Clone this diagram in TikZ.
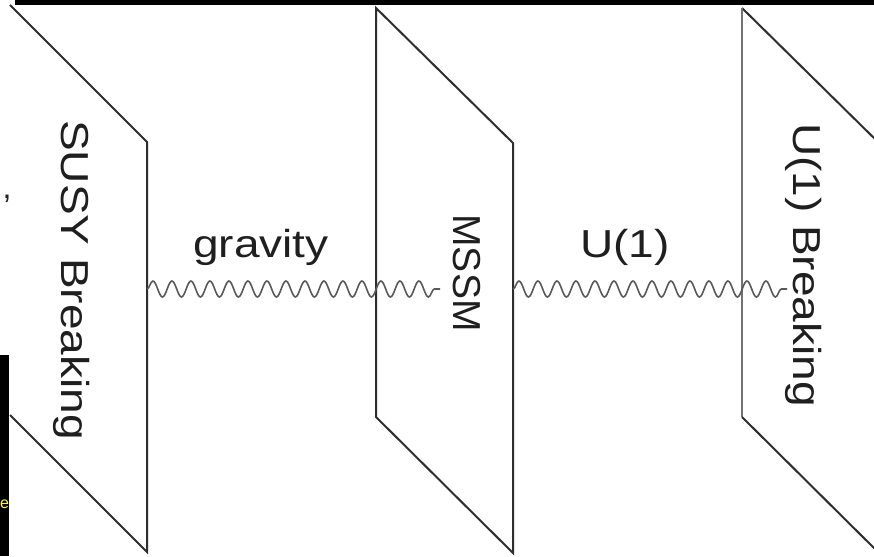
\documentclass[tikz,border=0pt]{standalone}
\usepackage{fontspec}
\setmainfont{Liberation Sans}
\usetikzlibrary{decorations.pathmorphing}

\newcommand{\widen}[1]{\scalebox{1.18}[1]{#1}}

\tikzset{
	plane/.style={draw=black!82, line width=2pt, line join=miter},
	photon/.style={draw=black!65, line width=1.6pt, decorate,
		decoration={snake, segment length=19pt, amplitude=8pt}},
	brane/.style={font=\fontsize{39}{46}\selectfont, text=black!88, rotate=-90, anchor=mid, inner sep=0pt},
	force/.style={font=\fontsize{39}{46}\selectfont, text=black!88, anchor=base, inner sep=0pt},
}

\begin{document}
\begin{tikzpicture}[x=1pt,y=-1pt]
		\useasboundingbox (0,0) rectangle (874,556);
		\clip (0,0) rectangle (874,556);
		\fill[white] (0,0) rectangle (874,556);

		% bits of the page around the figure
		\fill[black] (15,0) rectangle (874,5);
		\fill[black] (0,355) rectangle (9,556);
		\node[force, font=\fontsize{32}{38}\selectfont] (comma) at (7,198) {,};
		\node[force, font=\fontsize{16}{19}\selectfont, text=yellow!80!white] (frag) at (4.5,508) {e};

		% the three planes
		\draw[plane] (10,5) -- (147,142) -- (147,552) -- (10,415);
		\draw[plane] (513,143) -- (376,8) -- (376,417) -- (513,553) -- cycle;
		\draw[plane] (879,143) -- (742,8);
		\draw[plane, draw=black!55] (742,8) -- (742,417);
		\draw[plane] (742,417) -- (879,553);

		\node[brane] (susy) at (64,280) {\widen{SUSY Breaking}};
		\node[brane] (mssm) at (456,273) {MSSM};
		\node[brane] (ubreak) at (796,265) {\widen{U(1) Breaking}};

		\node[force] (grav) at (261,257) {\widen{gravity}};
		\node[force] (uone) at (625,257) {\widen{U(1)}};

		% messengers
		\coordinate (susyR) at (147,289);
		\coordinate (mssmL) at (440,289);
		\coordinate (mssmR) at (513,289);
		\coordinate (ubreakL) at (787,289);
		\draw[photon] (susyR) -- (mssmL);
		\draw[photon] (mssmR) -- (ubreakL);

	\end{tikzpicture}
\end{document}
